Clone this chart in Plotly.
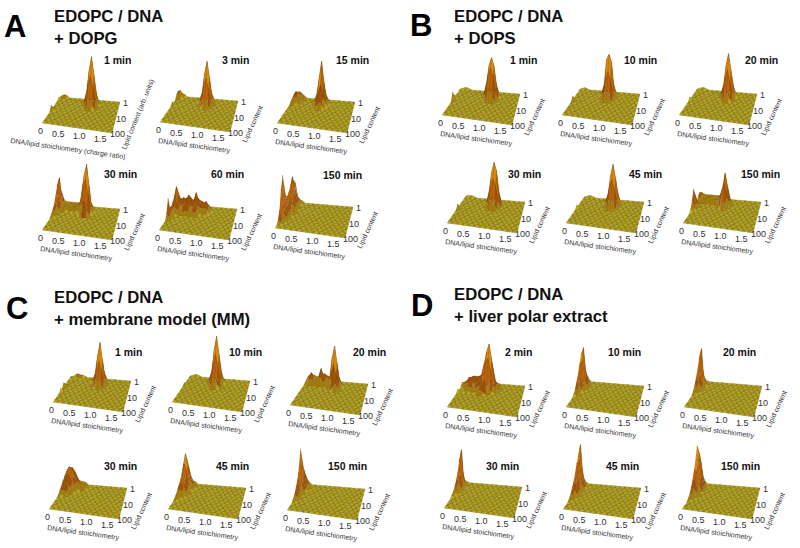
import plotly.graph_objects as go

# Surface heights: sparse rows (lipid row 0=front .. 12=back, first column, heights)
A_1 = [(12,1,[2,3,2]),(11,0,[2,2,1]),(6,0,[5,2]),(11,12,[4,13,24,13,4]),(10,11,[3,12,34,48,30,10,2]),(9,12,[7,22,31,18,5]),(8,13,[5,11,4])]
A_3 = [(12,0,[5,6,3,2]),(11,0,[4,5,3]),(8,0,[3,1]),(11,11,[4,11,22,11,4]),(10,10,[3,10,30,42,26,8,2]),(9,11,[6,18,27,15,5]),(8,12,[4,9,4])]
A_15 = [(12,0,[3,5,6,4,2]),(11,0,[4,8,7,4,3,2]),(10,0,[3,5,4,3,2]),(9,0,[2,3,2]),(11,10,[4,9,19,9,4]),(10,9,[3,9,26,43,22,7,2]),(9,10,[5,13,21,11,4]),(8,11,[3,7,3])]
A_30 = [(12,0,[8,10,4,3,3,3,3,3,3,3,4]),(11,0,[18,16,5,3,4,3,3,3,3,4,8,14,16,8,3]),(10,0,[22,31,8,3,3,3,3,3,3,5,14,36,47,26,6,2]),(9,0,[15,18,5,2,2,1,1,1,1,3,12,30,34,18,4]),(8,0,[8,8,3,1,0,0,0,0,0,0,4,14,14,6]),(7,0,[5,3]),(6,0,[3,2])]
A_60 = [(12,0,[4,5,5,4,4,4,4,4,5,5,4,4,3,2]),(11,0,[8,12,8,8,8,10,11,8,8,11,8,7,6,5,2]),(10,0,[10,22,14,8,12,9,15,9,9,18,10,7,6,10,6,2]),(9,0,[8,14,8,6,7,7,8,6,6,9,7,5,5,6,3]),(8,0,[6,6,4,3,3,3,3,3,3,3,3,2,2,2]),(7,0,[8,4,2,1]),(6,0,[19,4,1]),(5,0,[6,2])]
A_150 = [(12,0,[15,20,6,3,2]),(11,0,[20,24,12,4,2]),(10,0,[18,30,15,5,2]),(9,0,[16,20,12,4,1]),(8,0,[14,14,8,3]),(7,0,[18,10,5,2]),(6,0,[30,8,4,1]),(5,0,[42,10,3]),(4,0,[30,6,2]),(3,0,[12,3]),(2,0,[4,1])]
B_1 = [(7,0,[8,2]),(8,0,[3,1]),(12,1,[1,2,2,1]),(11,12,[5,15,25,15,5]),(10,11,[3,13,31,39,31,11,3]),(9,12,[9,23,31,21,6]),(8,13,[6,13,5])]
B_10 = [(7,0,[4,1]),(12,1,[1,2,1]),(11,11,[4,15,27,15,4]),(10,10,[3,11,37,42,35,9,3]),(9,11,[7,19,27,17,5]),(8,12,[5,11,4])]
B_20 = [(7,0,[3,1]),(12,1,[1,2,2,1]),(11,12,[4,13,23,13,4]),(10,11,[3,11,31,43,27,9,3]),(9,12,[7,19,29,15,5]),(8,13,[5,10,4])]
B_30 = [(7,0,[4,1]),(12,1,[2,2,2,1]),(11,11,[4,14,26,14,4]),(10,10,[2,12,32,42,34,12,2]),(9,11,[8,22,28,20,6]),(8,12,[5,12,5])]
B_45 = [(7,0,[3,1]),(12,1,[1,2,2,1]),(11,11,[4,13,23,13,4]),(10,10,[3,10,29,40,27,9,3]),(9,11,[7,19,27,15,5]),(8,12,[5,11,4])]
B_150 = [(12,0,[5,4,3,3,3,3,3,3,3,3,2]),(11,0,[7,5,3,3,3,3,3,3,4,8,8,6,2]),(10,0,[5,3,3,3,3,3,3,3,3,8,16,31,18,5,2]),(9,9,[6,14,22,12,3]),(8,10,[4,8,3]),(8,0,[12,4,1]),(7,0,[19,5,1]),(6,0,[10,2]),(5,0,[3,1])]
C_1 = [(12,2,[2,3,2,2,1]),(11,2,[1,2,1]),(7,0,[4,3,1]),(5,0,[3,1]),(11,11,[4,11,21,11,4]),(10,10,[3,9,28,41,24,7,3]),(9,11,[6,15,24,13,5]),(8,12,[4,9,4])]
C_10 = [(12,1,[1,2,2,1]),(8,0,[2,1]),(11,10,[4,13,25,13,4]),(10,9,[3,11,33,47,29,9,3]),(9,10,[7,19,31,17,5]),(8,11,[5,11,4])]
C_20 = [(12,0,[3,4,5,4,3,4,6,7,5,4,3]),(11,0,[2,5,9,5,4,6,14,7,5,6,4]),(10,0,[1,3,5,3,3,4,8,4,4,3]),(11,11,[8,20,10,3]),(10,10,[8,28,40,24,6,2]),(9,11,[14,24,12,4]),(8,12,[3,8,3])]
C_30 = [(12,0,[5,8,10,9,6,4,3,3,2]),(11,0,[8,14,18,18,14,8,5,4,3,2]),(10,0,[9,16,21,20,15,7,5,5,3,2]),(9,0,[8,12,16,14,9,4,2,1]),(8,0,[5,8,9,7,4,2]),(7,0,[3,4,4,2]),(6,0,[1,2,1])]
C_45 = [(12,0,[10,12,8,3,2]),(11,0,[16,26,16,6,3,2]),(10,0,[18,34,22,8,3,2]),(9,0,[14,26,18,6,2]),(8,0,[10,18,12,4,1]),(7,0,[8,12,8,2]),(6,0,[5,7,4,1]),(5,0,[3,4,2]),(4,0,[1,2,1])]
C_150 = [(12,0,[8,5,2]),(11,0,[18,10,3]),(10,0,[30,14,3]),(9,0,[42,12,2]),(8,0,[26,8,2]),(7,0,[16,5,1]),(6,0,[10,3]),(5,0,[5,2]),(4,0,[3,1])]
D_2 = [(12,3,[3,4,5,5,6,8,10,10,6,3]),(11,2,[2,5,8,8,8,9,10,14,24,30,20,5,3,2]),(10,0,[3,3,5,9,9,9,9,10,12,24,36,44,28,8,5,4,2]),(9,1,[2,4,7,7,6,6,7,10,20,28,32,18,5,3,2]),(8,2,[2,4,4,3,3,4,6,10,12,8,3,2]),(7,0,[3,1,1,2,2,1,1,2,4,4,2])]
D_10 = [(12,0,[10,8,3]),(11,0,[24,16,4,2]),(10,0,[30,38,12,3]),(9,0,[24,26,8,2]),(8,0,[16,14,5,1]),(7,0,[10,8,3]),(6,0,[5,4,1]),(5,0,[2,2])]
D_20 = [(12,0,[6,4,1]),(11,0,[18,12,2]),(10,0,[26,37,6,2]),(9,0,[18,16,3]),(8,0,[12,8,2]),(7,0,[6,4,1]),(6,0,[3,2])]
D_30 = [(12,0,[5,3,1]),(11,0,[16,12,2]),(10,0,[24,37,5,1]),(9,0,[16,18,3]),(8,0,[10,10,2]),(7,0,[6,5,1]),(6,0,[3,3]),(5,0,[2,1])]
D_45 = [(12,0,[8,6,2]),(11,0,[22,18,4]),(10,0,[30,43,10,2]),(9,0,[26,28,7,1]),(8,0,[18,18,4]),(7,0,[12,10,3]),(6,0,[8,6,2]),(5,0,[4,3,1]),(4,0,[2,1])]
D_150 = [(12,0,[10,8,3]),(11,0,[30,24,8,2]),(10,0,[42,34,14,3]),(9,0,[30,30,12,2]),(8,0,[22,22,8,1]),(7,0,[14,14,5]),(6,0,[8,8,3]),(5,0,[4,4,1]),(4,0,[2,2])]

SURFACES = [A_1,A_3,A_15,A_30,A_60,A_150,B_1,B_10,B_20,B_30,B_45,B_150,
            C_1,C_10,C_20,C_30,C_45,C_150,D_2,D_10,D_20,D_30,D_45,D_150]
TIMES = ["1 min","3 min","15 min","30 min","60 min","150 min",
         "1 min","10 min","20 min","30 min","45 min","150 min",
         "1 min","10 min","20 min","30 min","45 min","150 min",
         "2 min","10 min","20 min","30 min","45 min","150 min"]
X_TICKS = ["0","0.5","1.0","1.5"]
Y_TICKS = ["100","10","1"]
HEADINGS = ["EDOPC / DNA<br>+ DOPG","EDOPC / DNA<br>+ DOPS","EDOPC / DNA<br>+ membrane model (MM)","EDOPC / DNA<br>+ liver polar extract"]
LETTERS = ["A","B","C","D"]

# Layout (pixels): left corner of each surface, centre of each time label
ANCHORS = [(42,123),(160,122),(277,123),(42,230),(159,230),(275,228),
           (442,115),(562,115),(679,115),(447,223),(566,223),(683,223),
           (53,402),(172,402),(290,405),(49,509),(168,509),(287,510),
           (447,407),(566,407),(684,407),(444,508),(563,509),(682,509)]
TIME_POS = [(117,60),(235,60),(352,60),(120,174),(227,174),(342,175),
            (523,60),(640,60),(761,60),(524,174),(645,174),(760,174),
            (128,352),(245,352),(369,352),(120,466),(232,466),(347,466),
            (518,352),(624,352),(739,352),(502,466),(622,466),(740,466)]
LETTER_POS = [(15,26),(421,25),(17,308),(422,305)]
HEADING_POS = [(52,27),(452,27),(52,308),(452,305)]
NX, NY = 26, 13
F, R, B = (70,10), (78,-21), (18,-26)
CHECKER = ["#bba914", "#998810"]
BANDS = [(5,"#a8800e"),(12,"#a25508"),(25,"#bc640a"),(38,"#d98812"),(1e9,"#e6ae2c")]


def grid(rows):
    z = [[0.0]*NX for _ in range(NY)]
    for j, c0, vals in rows:
        for k, v in enumerate(vals):
            z[j][c0+k] = v
    return z


def project(anchor, i, j, h):
    u, v = i/(NX-1), j/(NY-1)
    px = u*(1-v)*F[0] + u*v*R[0] + (1-u)*v*B[0]
    py = u*(1-v)*F[1] + u*v*R[1] + (1-u)*v*B[1]
    return anchor[0]+px, anchor[1]+py-h


fig = go.Figure()
for anchor, rows in zip(ANCHORS, SURFACES):
    z = grid(rows)
    for j in range(NY-2, -1, -1):
        buckets = {}
        for i in range(NX-1):
            nodes = [(i,j),(i+1,j),(i+1,j+1),(i,j+1)]
            hs = [z[b][a] for a, b in nodes]
            mean = sum(hs)/4
            if mean < 1.2:
                col = CHECKER[(i+j) % 2]
                rank = (i+j) % 2
            else:
                for k, (lim, c) in enumerate(BANDS):
                    if mean < lim:
                        col, rank = c, k+2
                        break
            xs, ys = buckets.setdefault((rank, col), ([], []))
            for (a, b), h in zip(nodes, hs):
                px, py = project(anchor, a, b, h)
                xs.append(px)
                ys.append(py)
            xs.append(None)
            ys.append(None)
        for (rank, col) in sorted(buckets):
            xs, ys = buckets[(rank, col)]
            fig.add_trace(go.Scatter(x=xs, y=ys, mode="lines", fill="toself", fillcolor=col,
                                     line=dict(color="rgba(70,50,0,0.45)", width=0.4),
                                     hoverinfo="skip", showlegend=False))

ann = []


def text(x, y, s, size, color="#222", bold=False, angle=0, align="center", xanchor="center"):
    ann.append(dict(x=x, y=y, xref="x", yref="y", text=f"<b>{s}</b>" if bold else s, showarrow=False,
                    font=dict(family="Liberation Sans", size=size, color=color), textangle=angle,
                    align=align, xanchor=xanchor, yanchor="middle"))


X_TICK_OFF = [(-2,8),(16,11),(37,13),(58,16)]
Y_TICK_OFF = [(75,11),(79,-4),(83,-20)]
for n, (anchor, t, tp) in enumerate(zip(ANCHORS, TIMES, TIME_POS)):
    text(tp[0], tp[1], t, 10.5, "#111", bold=True)
    for s, o in zip(X_TICKS, X_TICK_OFF):
        text(anchor[0]+o[0], anchor[1]+o[1], s, 9, "#333")
    for s, o in zip(Y_TICKS, Y_TICK_OFF):
        text(anchor[0]+o[0], anchor[1]+o[1], s, 9, "#333")
    if n == 0:
        text(anchor[0]+26, anchor[1]+26, "DNA/lipid stoichiometry (charge ratio)", 7, "#333", angle=8)
        text(anchor[0]+96, anchor[1]-8, "Lipid content (arb. units)", 7, "#333", angle=-68)
    else:
        text(anchor[0]+34, anchor[1]+24, "DNA/lipid stoichiometry", 7, "#333", angle=8)
        text(anchor[0]+93, anchor[1]+2, "Lipid content", 7, "#333", angle=-65)
for s, p in zip(LETTERS, LETTER_POS):
    text(p[0], p[1], s, 31, "#000", bold=True)
for s, p in zip(HEADINGS, HEADING_POS):
    text(p[0], p[1], s, 16.7, "#111", bold=True, align="left", xanchor="left")

fig.update_layout(width=800, height=548, margin=dict(l=0, r=0, t=0, b=0),
                  paper_bgcolor="white", plot_bgcolor="white", showlegend=False,
                  annotations=ann,
                  xaxis=dict(range=[0,800], visible=False, fixedrange=True),
                  yaxis=dict(range=[548,0], visible=False, fixedrange=True))
fig.write_html("out.html", post_script="document.body.style.margin='0';",
               config=dict(displayModeBar=False))
